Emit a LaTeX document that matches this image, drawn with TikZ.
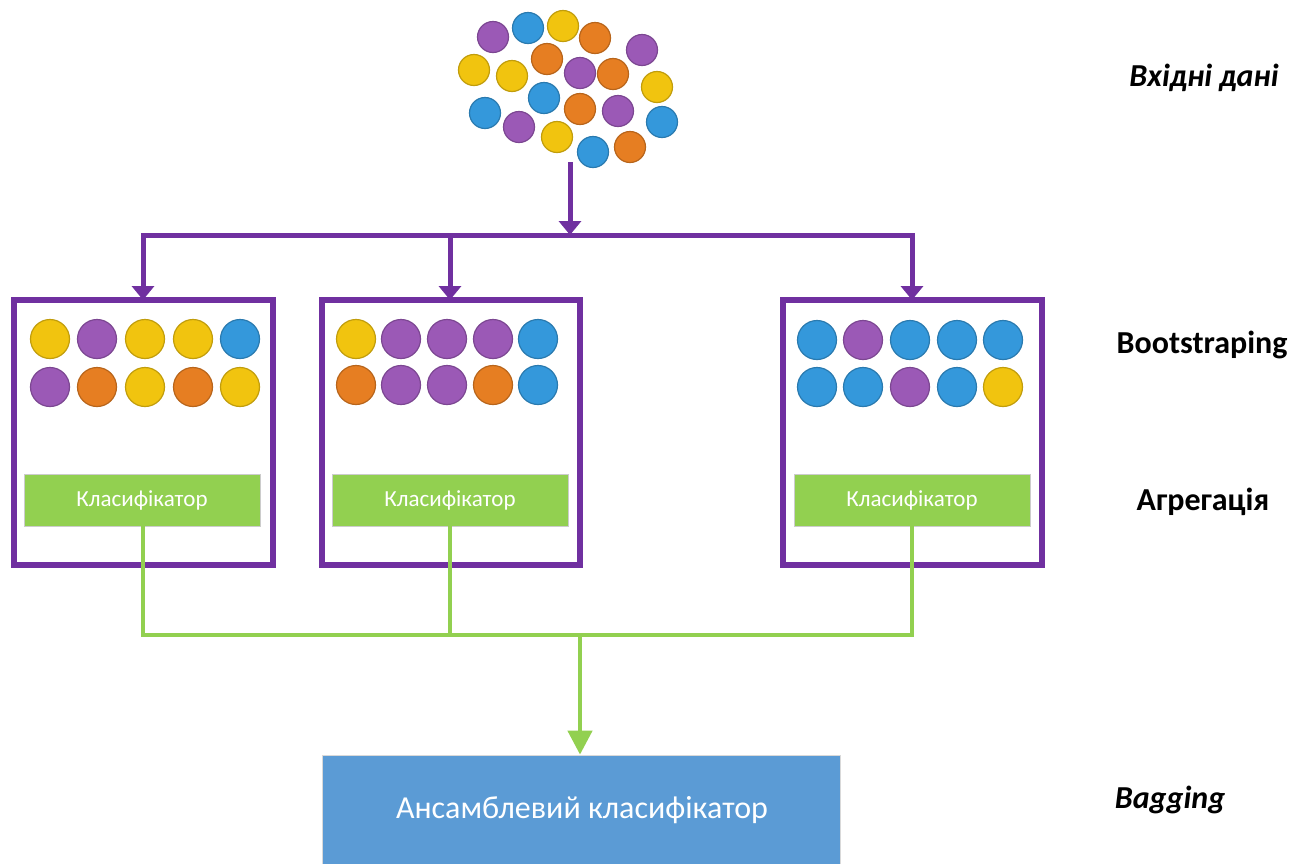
\documentclass[tikz,border=0pt]{standalone}
\usepackage{fontspec}
\setmainfont{Carlito}
\usetikzlibrary{arrows.meta}
\definecolor{vio}{HTML}{7030A0}
\definecolor{grn}{HTML}{92D050}
\definecolor{ens}{HTML}{5B9BD5}
\definecolor{cY}{HTML}{F1C40F}
\definecolor{cP}{HTML}{9B59B6}
\definecolor{cO}{HTML}{E67E22}
\definecolor{cB}{HTML}{3498DB}
\tikzset{
  dotY/.style={circle,fill=cY,draw=cY!80!black,line width=1.2pt,minimum size=#1,inner sep=0pt},
  dotP/.style={circle,fill=cP,draw=cP!80!black,line width=1.2pt,minimum size=#1,inner sep=0pt},
  dotO/.style={circle,fill=cO,draw=cO!80!black,line width=1.2pt,minimum size=#1,inner sep=0pt},
  dotB/.style={circle,fill=cB,draw=cB!80!black,line width=1.2pt,minimum size=#1,inner sep=0pt},
  bag/.style={draw=vio,line width=5.5pt,fill=white},
  clf/.style={fill=grn,draw=black!20,line width=0.8pt,text=white,minimum width=236pt,minimum height=52pt,font=\fontsize{23}{26}\selectfont,inner sep=0pt},
  vline/.style={draw=vio,line width=5pt},
  varrow/.style={vline,-{Triangle[width=22pt,length=14pt]}},
  gline/.style={draw=grn,line width=4.5pt},
  garrow/.style={gline,-{Triangle[width=24pt,length=24pt]}},
  side/.style={font=\bfseries\fontsize{32}{36}\selectfont,anchor=center},
  sideit/.style={font=\bfseries\itshape\fontsize{32}{36}\selectfont,anchor=center}
}
\begin{document}
\begin{tikzpicture}[x=1pt,y=-1pt]
\useasboundingbox (0,0) rectangle (1306,863);

% input data cloud
\foreach \c/\x/\y [count=\i] in {P/493/37,B/528/28,Y/563/26,O/595/38,P/642/50,
  Y/474/70,Y/512/76,O/547/59,P/580/73,O/613/74,Y/657/87,
  B/544/98,B/485/113,O/580/109,P/618/111,B/662/122,
  P/519/127,Y/557/137,B/593/152,O/630/147}
  \node[dot\c=31pt] (in\i) at (\x,\y) {};
\coordinate (src) at (570,162);

% bootstrap bags
\draw[bag] (14,300) rectangle (273,565);
\draw[bag] (322,300) rectangle (580,565);
\draw[bag] (783,300) rectangle (1042,565);
\coordinate (b1) at (143,300);
\coordinate (b2) at (450,300);
\coordinate (b3) at (912,300);

\foreach \c/\x/\y [count=\i] in {Y/50/339,P/97/339,Y/145/339,Y/193/339,B/240/339,
  P/50/387,O/97/387,Y/145/387,O/193/387,Y/240/387}
  \node[dot\c=39pt] (s1\i) at (\x,\y) {};
\foreach \c/\x/\y [count=\i] in {Y/356/339,P/401/339,P/447/339,P/493/339,B/538/339,
  O/356/385,P/401/385,P/447/385,O/493/385,B/538/385}
  \node[dot\c=39pt] (s2\i) at (\x,\y) {};
\foreach \c/\x/\y [count=\i] in {B/817/340,P/863/340,B/910/340,B/957/340,B/1003/340,
  B/817/387,B/863/387,P/910/387,B/957/387,Y/1003/387}
  \node[dot\c=39pt] (s3\i) at (\x,\y) {};

% classifiers
\node[clf] (k1) at (142,500) {Класифікатор};
\node[clf] (k2) at (450,500) {Класифікатор};
\node[clf] (k3) at (912,500) {Класифікатор};

% ensemble
\node[fill=ens,draw=black!15,line width=0.8pt,minimum width=518pt,minimum height=120pt,inner sep=0pt] (ens) at (581,815) {};
\node[text=white,font=\fontsize{32}{36}\selectfont] (enstext) at (582,810) {Ансамблевий класифікатор};

% distribution of samples
\coordinate (split) at (570,235);
\coordinate (l1) at (143,235);
\coordinate (l3) at (912,235);
\draw[varrow] (src) -- (split);
\draw[vline,line cap=rect] (l1) -- (l3);
\draw[varrow] (l1) -- (b1);
\draw[varrow] (split -| b2) -- (b2);
\draw[varrow] (l3) -- (b3);

% aggregation of votes
\coordinate (g1) at (143,635);
\coordinate (g3) at (912,635);
\coordinate (gm) at (580,635);
\draw[gline] (k1.south -| g1) -- (g1) -- (g3) -- (k3.south -| g3);
\draw[gline] (k2.south) -- (k2.south |- gm);
\draw[garrow] (gm) -- (gm |- ens.north);

% stage captions
\node[sideit] (capin) at (1204,78) {Вхідні дані};
\node[side] (capboot) at (1202,345) {Bootstraping};
\node[side] (capagg) at (1203,502) {Агрегація};
\node[sideit] (capbag) at (1170,800) {Bagging};
\end{tikzpicture}
\end{document}
